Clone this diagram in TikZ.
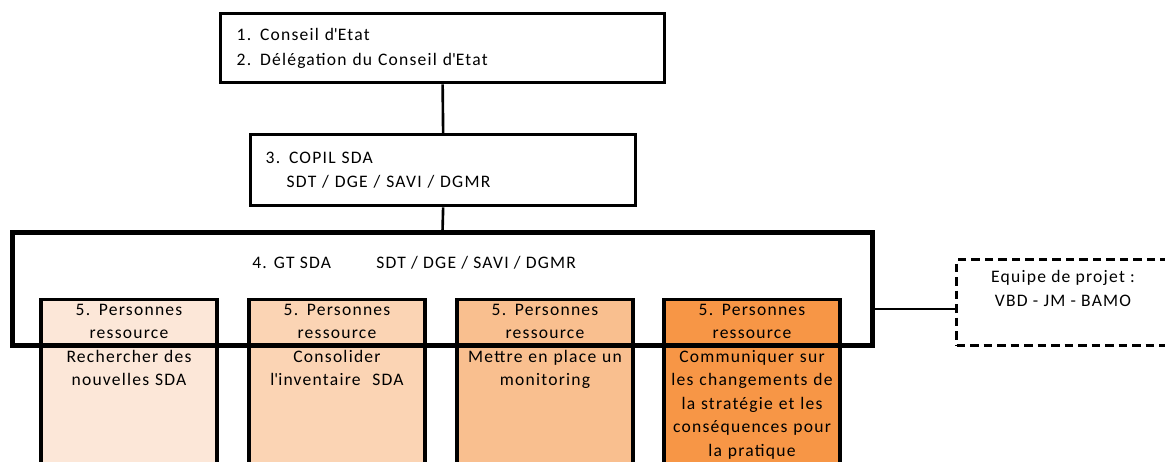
\documentclass[tikz,border=0pt]{standalone}
\usepackage{fontspec}
\setmainfont[LetterSpace=7]{Carlito}
\usepackage{tikz}
\usetikzlibrary{positioning}

\newcommand{\aq}{\textquotesingle}

\definecolor{resA}{HTML}{FCE7D8}
\definecolor{resB}{HTML}{FBD4B4}
\definecolor{resC}{HTML}{F9BF8F}
\definecolor{resD}{HTML}{F79646}

\tikzset{
  orgbox/.style={draw, line width=1.9pt, anchor=north west, inner ysep=0pt, align=left},
  resbox/.style={draw, line width=1.9pt, anchor=north, minimum width=3.52cm, minimum height=3.6cm},
  restext/.style={anchor=north, text width=3.4cm, align=center, inner sep=0pt,
    font=\fontsize{10}{13.4}\selectfont},
  link/.style={line width=1.5pt}
}

\begin{document}
\begin{tikzpicture}[x=0.02cm, y=-0.02cm, font=\fontsize{10}{14.2}\selectfont]
   \useasboundingbox (0,0) rectangle (1165,461);
   \clip (0,0) rectangle (1165,461);

   \node[orgbox, inner xsep=0.32cm, text width=8.24cm, minimum height=1.38cm] (ce) at (219,12)
     {1. Conseil d\aq Etat\\2. Délégation du Conseil d\aq Etat};
   \node[orgbox, inner xsep=0.3cm, text width=7.1cm, minimum height=1.42cm] (copil) at (249,133)
     {3. COPIL SDA\\\hspace*{0.42cm}SDT / DGE / SAVI / DGMR};

   \node[resbox, fill=resA] (r1) at (129,298) {};
   \node[resbox, fill=resB] (r2) at (337,298) {};
   \node[resbox, fill=resC] (r3) at (545,298) {};
   \node[resbox, fill=resD] (r4) at (752,298) {};

   \node[restext, below=0.11cm of r1.north] (t1) {5. Personnes\\ressource\\Rechercher des\\nouvelles SDA};
   \node[restext, below=0.11cm of r2.north] (t2) {5. Personnes\\ressource\\Consolider\\l\aq inventaire\ \ SDA};
   \node[restext, below=0.11cm of r3.north] (t3) {5. Personnes\\ressource\\Mettre en place un\\monitoring};
   \node[restext, below=0.11cm of r4.north] (t4) {5. Personnes\\ressource\\Communiquer sur\\les changements de\\la stratégie et les\\conséquences pour\\la pratique};

   \node[draw, line width=3pt, anchor=north west, minimum width=17.2cm, minimum height=2.26cm] (gt) at (10,230) {};
   \node[anchor=west, inner sep=0pt] (gtlabel) at (252,263)
     {\makebox[2.48cm][l]{4. GT SDA}SDT / DGE / SAVI / DGMR};

   \node[draw, dashed, dash pattern=on 0.17cm off 0.1cm, line width=1.9pt, anchor=north west,
     minimum width=4.5cm, minimum height=1.72cm] (team) at (955,258) {};
   \node[align=center, inner sep=0pt, font=\fontsize{10}{13.6}\selectfont] (teamlabel) at (1063,288)
     {Equipe de projet :\\VBD - JM - BAMO};

   \draw[link] (ce.south) -- (copil.north);
   \draw[link] (copil.south) -- (gt.north);
   \draw[line width=1.1pt] ([yshift=-0.12cm]team.west) -- ([yshift=-0.12cm]team.west -| gt.east);
\end{tikzpicture}
\end{document}
